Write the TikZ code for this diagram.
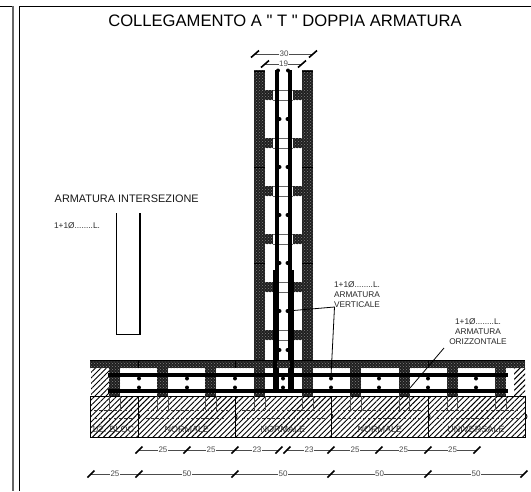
\documentclass[tikz,border=0pt]{standalone}
\usepackage{fontspec}
\setmainfont{Liberation Sans}
\newfontfamily\plainfont{Liberation Sans}
\usetikzlibrary{patterns,patterns.meta}
\tikzset{
  solidfill/.style={fill=black!88,postaction={pattern=crosshatch dots,pattern color=black!50}},
  hatched/.style={draw=black,line width=.7pt,pattern={Lines[angle=45,distance=3.9pt,line width=.95pt]},pattern color=black},
  rebar/.style={line width=3.8pt,black},
  dimln/.style={line width=.8pt,black!70},
  ticks/.style={line width=1.6pt,black},
  dimtxt/.style={font=\fontsize{8}{9}\selectfont,fill=white,inner sep=.4pt,text=black!70},
  lbl/.style={font=\fontsize{8.3}{10}\selectfont,align=center,text=black!85,inner sep=0pt},
  blocktxt/.style={font=\fontsize{9}{10}\selectfont,inner sep=0pt,text=black!80},
  dashln/.style={line width=.6pt,densely dashed,black!80},
  leader/.style={line width=.8pt,black},
  rebardot/.style={circle,fill=black,inner sep=0pt,minimum size=4pt}
}
\begin{document}
\begin{tikzpicture}[x=1pt,y=-1pt]
\useasboundingbox (0,0) rectangle (531,491);
% frame
\draw[line width=.8pt,black] (0,6) -- (13,6);
\draw[line width=1.2pt,black!60] (13,6) -- (13,491);
\draw[line width=.9pt,black] (531,6) -- (19.5,6) -- (19.5,491);
% title
\node[font=\fontsize{16.6}{18}\plainfont,inner sep=0pt] (title) at (285,21) {COLLEGAMENTO A " T " DOPPIA ARMATURA};
% wall
\fill[solidfill] (254,70) rectangle (265,360);
\fill[solidfill] (302,70) rectangle (313,360);
\foreach \y in {90,138,186,234,282,330}{
  \fill[solidfill] (265,\y) rectangle (273,\y+10);
  \fill[solidfill] (293,\y) rectangle (302,\y+10);
  \draw[line width=1pt,black!60] (273,\y) -- (293,\y);
  \draw[line width=.6pt,black!60] (273,\y+10) -- (293,\y+10);
}
\foreach \y in {71,167,263}{
  \draw[line width=.7pt,black] (254,\y) -- (265,\y) (302,\y) -- (313,\y);
}
% wall bars
\draw[rebar] (277,70) -- (277,391);
\draw[rebar] (290,70) -- (290,391);
\foreach \y in {119,167,215,263,311,350}{
  \node[rebardot] (wa\y) at (279.5,\y) {};
  \node[rebardot] (wb\y) at (287.5,\y) {};
}
\node[rebardot] (wt1) at (278,70.5) {};
\node[rebardot] (wt2) at (288,70.5) {};
% slab top
\fill[solidfill] (90,360) rectangle (525,368);
\draw[line width=.5pt,black] (90,360) -- (525,360);
\foreach \x in {138,235,331,428}{\draw[line width=.6pt,black] (\x,360) -- (\x,368);}
% blocks row
\foreach \x in {109,157,205,254,302,350,399,447,495}{
  \fill[solidfill] (\x,368) rectangle (\x+11,396);
}
\path[hatched,draw=none] (91,368) rectangle (109,396);
\path[hatched,draw=none] (514,368) rectangle (525,396);
% lower course
\draw[hatched,line width=.9pt] (90,396) rectangle (525,437);
\foreach \x in {138,235,331,428,525}{
  \draw[line width=.9pt,black] (\x,419) arc (90:-90:2 and 2.5);
}
\foreach \x in {138,235,331,428}{
  \draw[line width=.9pt,black] (\x,396) -- (\x,437);
}
\foreach \a/\b in {94/134,146/228,242/327,338/423,436/518}{
  \draw[dashln] (\a,410) -- (\b,410) (\a,418) -- (\b,418);
}
\foreach \x in {109,120,157,168,205,216,254,265,302,313,350,361,399,409,447,457,495,506}{
  \draw[line width=.4pt,black!70] (\x,396) -- (\x,410);
}
\node[blocktxt] (b1) at (114,429) {1/2. BLOC.};
\node[blocktxt] (b2) at (187,429) {NORMALE};
\node[blocktxt] (b3) at (283,429) {NORMALE};
\node[blocktxt] (b4) at (380,429) {NORMALE};
\node[blocktxt] (b5) at (476,429) {UNIVERSALE};
% horizontal bars
\draw[rebar] (108,375) -- (508,375);
\draw[rebar] (108,391) -- (508,391);
\foreach \x in {139,187,235,283,331,379,428,476}{
  \node[rebardot] at (\x,378.5) {};
  \node[rebardot] at (\x,387.5) {};
}
% U bar in wall
\draw[line width=3.8pt,black,line join=miter] (275,270) -- (275,391) -- (292,391) -- (292,270);
% dims
\coordinate (t30a) at (255,54); \coordinate (t30b) at (313,54);
\coordinate (t19a) at (265,64); \coordinate (t19b) at (302,64);
\draw[dimln] (t30a) -- node[dimtxt]{30} (t30b);
\draw[dimln] (t19a) -- node[dimtxt]{19} (t19b);
\foreach \c in {t30a,t30b,t19a,t19b}{
  \draw[ticks] ([shift={(-4,3.5)}]\c) -- ([shift={(4,-3.5)}]\c);
}
\foreach \a/\b/\t in {139/187/25,187/235/25,235/279/23,287/331/23,331/379/25,379/428/25,428/477/25}{
  \coordinate (ra) at (\a,450); \coordinate (rb) at (\b,450);
  \draw[dimln] (ra) -- node[dimtxt]{\t} (rb);
}
\foreach \x in {139,187,235,279,287,331,379,428,477}{
  \draw[ticks] (\x-3.5,453.5) -- (\x+3.5,446.5);
}
\foreach \a/\b/\t in {91/139/25,139/235/50,235/331/50,331/428/50,428/524/50}{
  \coordinate (sa) at (\a,474); \coordinate (sb) at (\b,474);
  \draw[dimln] (sa) -- node[dimtxt]{\t} (sb);
}
\foreach \x in {91,139,235,331,428,524}{
  \draw[ticks] (\x-3.5,477.5) -- (\x+3.5,470.5);
}
% labels and leaders
\node[lbl] (lv) at (357,295) {1+1Ø........L.\\ARMATURA\\VERTICALE};
\node[lbl] (lo) at (478,332) {1+1Ø........L.\\ARMATURA\\ORIZZONTALE};
\coordinate (lvk) at (334.5,307);
\coordinate (lvd) at (331,376);
\draw[leader] (wb311) -- (lvk) -- (lvd);
\coordinate (loa) at (444,348);
\coordinate (lob) at (410,388);
\draw[leader] (loa) -- (lob);
% intersection bar
\node[font=\fontsize{10.9}{12}\selectfont,inner sep=0pt,text=black!90] (inter) at (126.7,199) {ARMATURA INTERSEZIONE};
\node[font=\fontsize{8.3}{9}\selectfont,inner sep=0pt,text=black!85] (one) at (77,226) {1+1Ø........L.};
\draw[line width=1.8pt,black] (116.5,213) -- (116.5,334.5) -- (140,334.5) -- (140,213);
\end{tikzpicture}
\end{document}
